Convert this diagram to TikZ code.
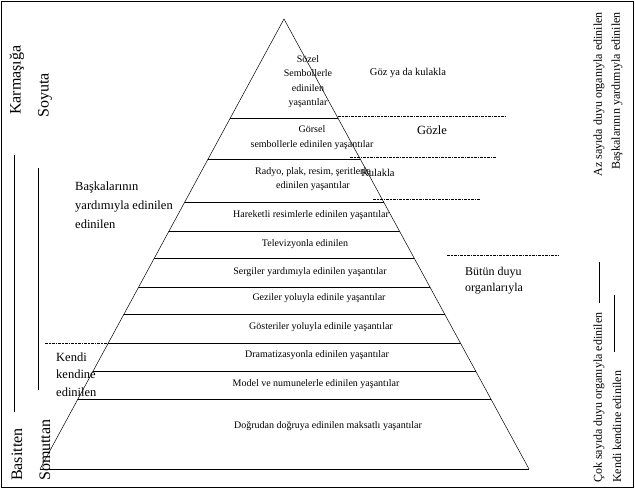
\documentclass[tikz,border=0pt]{standalone}
\usepackage{fontspec}
\setmainfont{Liberation Serif}
\begin{document}
\begin{tikzpicture}[x=1pt, y=-1pt,
    band/.style={line width=0.8pt},
    sense/.style={line width=1pt, dash pattern=on 3pt off 1pt on 1.5pt off 1pt},
    txt/.style={font=\fontsize{10}{14.5}\selectfont, align=center, inner sep=0pt},
    big/.style={font=\fontsize{12.5}{19}\selectfont, align=left, inner sep=0pt},
    side/.style={font=\fontsize{12}{14}\selectfont, rotate=90, inner sep=0pt},
    axis/.style={font=\fontsize{16}{18}\selectfont, rotate=90, inner sep=0pt}]
    \useasboundingbox (0,0) rectangle (635,489);
    \draw[line width=0.8pt] (1,1) rectangle (633,487);
    % pyramid
    \coordinate (apex) at (284,19);
    \coordinate (bl) at (40,469);
    \coordinate (br) at (529,469);
    \draw[line width=0.5pt] (bl) -- (apex) -- (br);
    \draw[band] (bl) -- (br);
    \begin{scope}
      \clip (bl) -- (apex) -- (br) -- cycle;
      \foreach \y in {118,159,202,231,258,287,314,343,371,399}
        \draw[band] (0,\y) -- (635,\y);
    \end{scope}
    % dashed dividers
    \draw[sense] (338,117) -- (507,117);
    \draw[sense] (350,158) -- (496,158);
    \draw[sense] (373,200) -- (480,200);
    \draw[sense] (447,256) -- (558,256);
    \draw[sense] (45,343) -- (152,343);
    % bands
    \node[txt] (sozel) at (308,81.5) {Sözel\\Sembollerle\\edinilen\\yaşantılar};
    \node[txt] (gorsel) at (312,137.5) {Görsel\\sembollerle edinilen yaşantılar};
    \node[txt] (radyo) at (313,179) {Radyo, plak, resim, şeritlerle\\edinilen yaşantılar};
    \node[txt] (hareket) at (311,215) {Hareketli resimlerle edinilen yaşantılar};
    \node[txt] (tv) at (305,244) {Televizyonla edinilen};
    \node[txt] (sergi) at (310,272) {Sergiler yardımıyla edinilen yaşantılar};
    \node[txt] (gezi) at (319,298) {Geziler yoluyla edinile yaşantılar};
    \node[txt] (gosteri) at (321,327) {Gösteriler yoluyla edinile yaşantılar};
    \node[txt] (drama) at (317,355) {Dramatizasyonla edinilen yaşantılar};
    \node[txt] (model) at (316,384) {Model ve numunelerle edinilen yaşantılar};
    \node[txt] (dogru) at (328,426) {Doğrudan doğruya edinilen maksatlı yaşantılar};
    % senses
    \node[txt, font=\fontsize{10.5}{12}\selectfont] (gozkulak) at (408,73) {Göz ya da kulakla};
    \node[txt, font=\fontsize{12.5}{14}\selectfont] (gozle) at (432,130) {Gözle};
    \node[txt, font=\fontsize{10.5}{12}\selectfont] (kulakla) at (378,173) {Kulakla};
    \node[big, anchor=west, font=\fontsize{12}{16}\selectfont] (butun) at (465,281) {Bütün duyu\\organlarıyla};
    % left labels
    \node[big, anchor=west] (baskalari) at (75,205) {Başkalarının\\yardımıyla edinilen\\edinilen};
    \node[big, anchor=west, font=\fontsize{12.5}{17.5}\selectfont] (kendi) at (56,374.5) {Kendi\\kendine\\edinilen};
    % left scale
    \node[axis, anchor=west] (karmasik) at (17,115) {Karmaşığa};
    \node[axis, anchor=west] (basit) at (17,481) {Basitten};
    \node[axis, anchor=west] (soyut) at (45,118) {Soyuta};
    \node[axis, anchor=west] (somut) at (45,481) {Somuttan};
    \draw[line width=0.8pt] (14,155) -- (14,412);
    \draw[line width=0.8pt] (38,168) -- (38,390);
    % right scale
    \node[side, anchor=west] (cok) at (599,483) {Çok sayıda duyu organıyla edinilen};
    \node[side, anchor=east] (az) at (599,12) {Az sayıda duyu organıyla edinilen};
    \node[side, anchor=west] (kendikendine) at (617,483) {Kendi kendine edinilen};
    \node[side, anchor=east] (yardim) at (617,12) {Başkalarının yardımıyla edinilen};
    \draw[line width=0.6pt] (599,303) -- (599,262);
    \draw[line width=0.6pt] (614,352) -- (614,295);
\end{tikzpicture}
\end{document}
